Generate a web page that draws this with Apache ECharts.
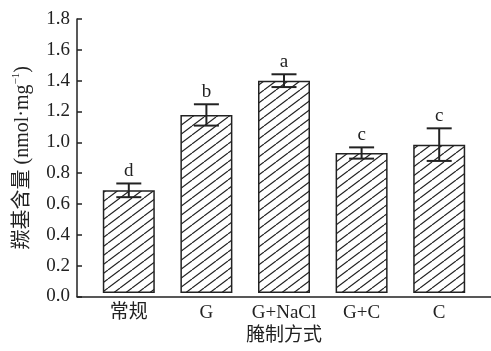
<!DOCTYPE html>
<html><head><meta charset="utf-8">
<script src="https://cdn.jsdelivr.net/npm/echarts@6/dist/echarts.min.js"></script>
<style>html,body{margin:0;padding:0;background:#fff}#c{width:491px;height:351px}</style>
</head><body><div id="c"></div>
<script>
var categories = ['常规', 'G', 'G+NaCl', 'G+C', 'C'];
var means = [0.675, 1.17, 1.395, 0.92, 0.975];
var errors = [0.045, 0.07, 0.042, 0.037, 0.107];
var letters = ['d', 'b', 'a', 'c', 'c'];
var yTicks = [0, 0.2, 0.4, 0.6, 0.8, 1.0, 1.2, 1.4, 1.6, 1.8];

var FONT = "'Liberation Serif','Times New Roman','Noto Sans CJK SC',serif";
var INK = '#222';

var pc = document.createElement('canvas');
pc.width = 12; pc.height = 9;
var ctx = pc.getContext('2d');
ctx.fillStyle = '#fff'; ctx.fillRect(0, 0, 12, 9);
ctx.strokeStyle = INK; ctx.lineWidth = 1.2;
[-12, 0, 12].forEach(function (dx) {
  ctx.beginPath(); ctx.moveTo(dx, 9); ctx.lineTo(dx + 12, 0); ctx.stroke();
});

var chart = echarts.init(document.getElementById('c'), null, {renderer: 'canvas'});
var option = {
  animation: false,
  grid: [
    {left: 77, right: 0, top: 19, bottom: 54.5},
    {left: 90, right: 13, top: 19, bottom: 54.5}
  ],
  xAxis: [
    {gridIndex: 0, type: 'value', min: 0, max: 1, axisLine: {show: true, lineStyle: {color: INK, width: 1.5}},
     axisTick: {show: false}, axisLabel: {show: false}, splitLine: {show: false}, z: 5},
    {gridIndex: 1, type: 'category', data: categories, axisLine: {show: false}, axisTick: {show: false},
     axisLabel: {color: INK, fontFamily: FONT, fontSize: 19, margin: 10, interval: 0},
     name: '腌制方式', nameLocation: 'middle', nameGap: 33,
     nameTextStyle: {color: INK, fontFamily: FONT, fontSize: 19}}
  ],
  yAxis: [
    {gridIndex: 0, type: 'value', min: 0, max: 1.8, interval: 0.2,
     axisLine: {show: true, lineStyle: {color: INK, width: 1.5}},
     axisTick: {show: true, inside: true, length: 5, lineStyle: {color: INK, width: 1.5}},
     axisLabel: {color: INK, fontFamily: FONT, fontSize: 19, margin: 7,
       formatter: function (v) { return v.toFixed(1); }},
     splitLine: {show: false},
     name: '{m|羰基含量 (nmol·mg}{s|−1}{m|)}', nameLocation: 'middle', nameRotate: 90, nameGap: 44,
     nameTextStyle: {color: INK, fontFamily: FONT, fontSize: 20,
       rich: {m: {fontFamily: FONT, fontSize: 20, color: INK, verticalAlign: 'bottom', lineHeight: 22},
              s: {fontFamily: FONT, fontSize: 11, color: INK, verticalAlign: 'top', lineHeight: 22, padding: [0, 0, 9, 0]}}}},
    {gridIndex: 1, type: 'value', min: 0, max: 1.8, interval: 0.2, show: false}
  ],
  series: [
    {type: 'bar', xAxisIndex: 1, yAxisIndex: 1, data: means, barWidth: 52, z: 2,
     itemStyle: {color: {image: pc, repeat: 'repeat'}, borderColor: INK, borderWidth: 1.5}},
    {type: 'custom', xAxisIndex: 1, yAxisIndex: 1, z: 10,
     data: means.map(function (m, i) { return [i, m - errors[i], m + errors[i]]; }),
     renderItem: function (params, api) {
       var lo = api.coord([api.value(0), api.value(1)]);
       var hi = api.coord([api.value(0), api.value(2)]);
       var hw = 12.5;
       var st = {stroke: INK, lineWidth: 2};
       return {type: 'group', children: [
         {type: 'line', shape: {x1: lo[0], y1: lo[1], x2: hi[0], y2: hi[1]}, style: st},
         {type: 'line', shape: {x1: hi[0] - hw, y1: hi[1], x2: hi[0] + hw, y2: hi[1]}, style: st},
         {type: 'line', shape: {x1: lo[0] - hw, y1: lo[1], x2: lo[0] + hw, y2: lo[1]}, style: st},
         {type: 'text', style: {text: letters[params.dataIndex], x: hi[0], y: hi[1] - 3,
           align: 'center', verticalAlign: 'bottom', fill: INK, font: '19px ' + FONT}}
       ]};
     }}
  ]
};
chart.setOption(option);
</script></body></html>
